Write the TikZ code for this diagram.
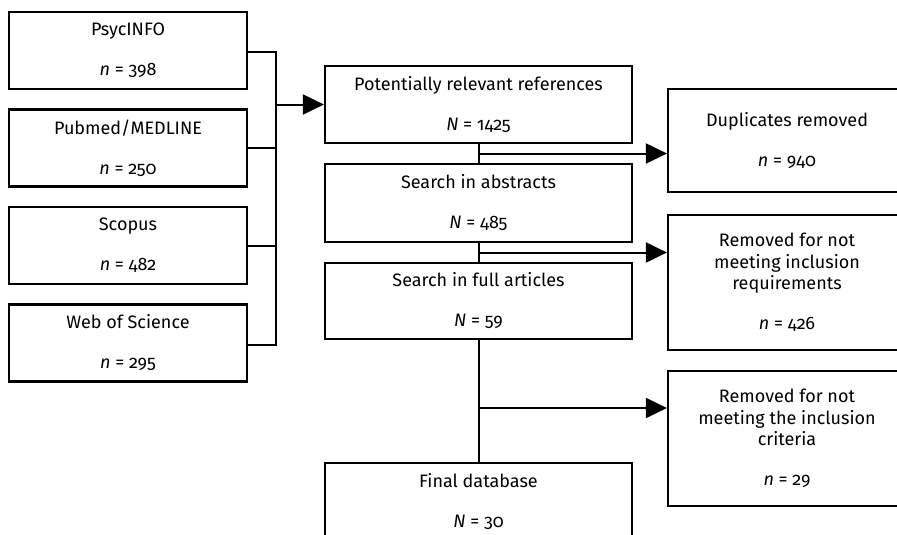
\documentclass[tikz,border=0pt]{standalone}
\usepackage{fontspec}
\setmainfont[Numbers=OldStyle]{Fira Sans}
\usetikzlibrary{arrows.meta,calc}
\tikzset{
  box/.style={draw, line width=2.2pt, align=center, inner sep=0pt,
    font=\fontsize{18}{21.5}\selectfont},
  link/.style={line width=2pt},
  arr/.style={line width=2pt, -{Triangle[length=21pt,width=20pt]}},
}
\newcommand{\gap}{\\[18.5pt]}
\begin{document}
\begin{tikzpicture}[x=1pt,y=-1pt]
\useasboundingbox (0,0) rectangle (897,535);
\clip (0,0) rectangle (897,535);
% sources
\node[box, minimum width=238pt, minimum height=77pt] (ps) at (128,50.5) {PsycINFO\gap\textit{n} = 398};
\node[box, minimum width=238pt, minimum height=77pt] (pm) at (128,148) {Pubmed/MEDLINE\gap\textit{n} = 250};
\node[box, minimum width=238pt, minimum height=77pt] (sc) at (128,245.5) {Scopus\gap\textit{n} = 482};
\node[box, minimum width=238pt, minimum height=77pt] (ws) at (128,343) {Web of Science\gap\textit{n} = 295};
% main column
\node[box, minimum width=307pt, minimum height=77pt] (pot) at (478.5,104.5) {Potentially relevant references\gap\textit{N} = 1425};
\node[box, minimum width=307pt, minimum height=78pt] (abs) at (478.5,203) {Search in abstracts\gap\textit{N} = 485};
\node[box, minimum width=307pt, minimum height=76pt] (full) at (478.5,301) {Search in full articles\gap\textit{N} = 59};
\node[box, minimum width=307pt, minimum height=77pt] (fin) at (478.5,501.5) {Final database\gap\textit{N} = 30};
% removed column
\node[box, minimum width=238pt, minimum height=103pt] (dup) at (787,140.5) {Duplicates removed\gap\textit{n} = 940};
\node[box, minimum width=238pt, minimum height=135pt] (rem1) at (787,282.5) {Removed for not\\meeting inclusion\\requirements\gap\textit{n} = 426};
\node[box, minimum width=238pt, minimum height=135pt] (rem2) at (787,438.5) {Removed for not\\meeting the inclusion\\criteria\gap\textit{n} = 29};
% bus
\coordinate (bt) at (276,52);
\coordinate (bb) at (276,345);
\draw[link] (ps.east |- bt) -- (bt) -- (bb) -- (ws.east |- bb);
\draw[link] (pm.east) -- (pm.east -| bt);
\draw[link] (sc.east) -- (sc.east -| bt);
\draw[arr] (pot.west -| bt) -- (pot.west);
% flow
\coordinate (j1) at ($(pot.south)!0.5!(abs.north)$);
\coordinate (j2) at ($(abs.south)!0.5!(full.north)$);
\coordinate (j3) at (478.5,408);
\draw[link] (pot.south) -- (abs.north);
\draw[link] (abs.south) -- (full.north);
\draw[link] (full.south) -- (fin.north);
\draw[arr] (j1) -- (j1 -| dup.west);
\draw[arr] (j2) -- (j2 -| rem1.west);
\draw[arr] (j3) -- (j3 -| rem2.west);
\end{tikzpicture}
\end{document}
